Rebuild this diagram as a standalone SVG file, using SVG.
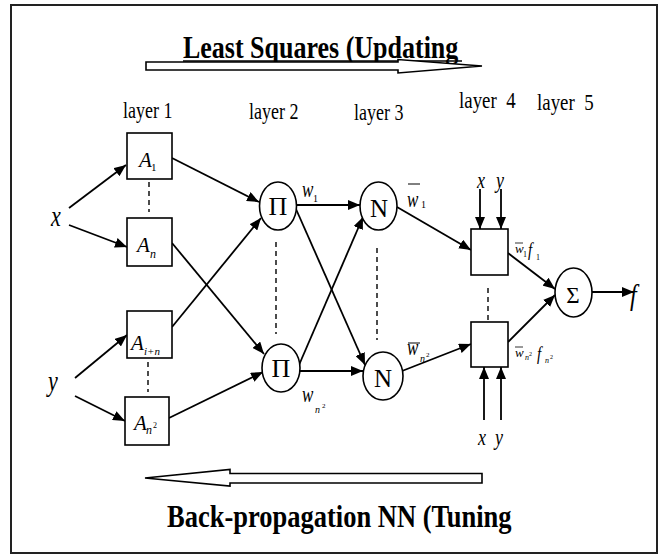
<svg xmlns="http://www.w3.org/2000/svg" width="665" height="556" viewBox="0 0 665 556">
<style>
.t{font-family:'Liberation Serif','DejaVu Serif',serif;fill:#000}
.i{font-style:italic}
.b{font-weight:bold}
.box{fill:#fff;stroke:#000;stroke-width:1.6}
.node{fill:#fff;stroke:#000;stroke-width:1.6}
.arr{stroke:#000;stroke-width:1.8;fill:none;marker-end:url(#ah)}
.dash{stroke:#000;stroke-width:1.4;stroke-dasharray:5,4;fill:none}
.big{fill:#fff;stroke:#000;stroke-width:1.6}
</style>
<defs>
<marker id="ah" viewBox="0 0 12 10" refX="12" refY="5" markerWidth="12" markerHeight="10" orient="auto" markerUnits="userSpaceOnUse">
<path d="M0,0 L12,5 L0,10 z" fill="#000"/>
</marker>
</defs>
<rect x="11" y="5" width="646" height="548" fill="#fff" stroke="#222" stroke-width="2"/>

<g id="top-banner">
<text class="t b" transform="translate(183 58) scale(1 1.2)" font-size="26">Least Squares (Updating</text>
<line x1="183" y1="61" x2="462" y2="61" stroke="#000" stroke-width="1.5"/>
<path class="big" d="M146,62 L398,62 L398,59.5 L482,66 L398,73 L398,70 L146,70 Z"/>
</g>

<g id="bottom-banner">
<path class="big" d="M482,473.5 L230,473.5 L230,469.5 L145,478 L230,486 L230,483 L482,483 Z"/>
<text class="t b" transform="translate(167 527) scale(1 1.2)" font-size="26.5">Back-propagation NN (Tuning</text>
</g>

<g id="layer-labels" class="t" font-size="18">
<text transform="translate(123 118) scale(1 1.3)">layer 1</text>
<text transform="translate(249 119) scale(1 1.3)">layer 2</text>
<text transform="translate(354 120) scale(1 1.3)">layer 3</text>
<text transform="translate(459 108) scale(1.05 1.3)" xml:space="preserve">layer  4</text>
<text transform="translate(537 110) scale(1.05 1.3)" xml:space="preserve">layer  5</text>
</g>

<g id="inputs" class="t i">
<text transform="translate(51 226) scale(1 1.3)" font-size="22">x</text>
<text transform="translate(48 391) scale(1 1.3)" font-size="22">y</text>
</g>

<g id="connectors">
<line class="arr" x1="69" y1="208" x2="126" y2="165"/>
<line class="arr" x1="69" y1="225" x2="127" y2="247"/>
<line class="arr" x1="75" y1="378" x2="127" y2="335"/>
<line class="arr" x1="75" y1="396" x2="125" y2="421"/>
<line class="dash" x1="149" y1="182" x2="149" y2="212"/>
<line class="dash" x1="148" y1="362" x2="148" y2="392"/>
<line class="arr" x1="172" y1="158" x2="259" y2="202"/>
<line class="arr" x1="172" y1="243" x2="264" y2="354"/>
<line class="arr" x1="172" y1="327" x2="261" y2="218"/>
<line class="arr" x1="169" y1="418" x2="263" y2="372"/>
<line class="dash" x1="276" y1="242" x2="276" y2="334"/>
<line class="arr" x1="296" y1="205" x2="360" y2="205"/>
<line class="arr" x1="296" y1="209" x2="365" y2="365"/>
<line class="arr" x1="299" y1="365" x2="363" y2="217"/>
<line class="arr" x1="300" y1="371" x2="363" y2="371"/>
<line class="dash" x1="377" y1="248" x2="377" y2="340"/>
<line class="arr" x1="397" y1="207" x2="471" y2="250"/>
<line class="arr" x1="402" y1="371" x2="471" y2="344"/>
<line class="arr" x1="480" y1="189" x2="480" y2="229"/>
<line class="arr" x1="501" y1="189" x2="501" y2="229"/>
<line class="arr" x1="484" y1="420" x2="484" y2="367"/>
<line class="arr" x1="501" y1="420" x2="501" y2="367"/>
<line class="dash" x1="488" y1="288" x2="488" y2="320"/>
<line class="arr" x1="508" y1="253" x2="555" y2="289"/>
<line class="arr" x1="508" y1="342" x2="555" y2="295"/>
<line class="arr" x1="592" y1="292" x2="634" y2="292"/>
</g>

<g id="A1">
<rect class="box" x="127" y="133" width="45" height="46"/>
<text class="t i" x="139" y="167" font-size="21">A</text>
<text class="t" x="151" y="171" font-size="11">1</text>
</g>
<g id="An">
<rect class="box" x="127" y="218" width="45" height="48"/>
<text class="t i" x="137" y="252" font-size="21">A</text>
<text class="t i" x="150" y="258" font-size="12">n</text>
</g>
<g id="Ain">
<rect class="box" x="127" y="311" width="45" height="47"/>
<text class="t i" x="131" y="350" font-size="21">A</text>
<text class="t i" x="144" y="355" font-size="11">i+n</text>
</g>
<g id="An2">
<rect class="box" x="125" y="397" width="44" height="48"/>
<text class="t i" x="134" y="430" font-size="21">A</text>
<text class="t i" x="146" y="434" font-size="12">n</text>
<text class="t" x="153" y="428" font-size="8">2</text>
</g>

<g id="Pi1">
<ellipse class="node" cx="278" cy="206" rx="18.5" ry="24"/>
<text class="t" x="278" y="215" font-size="26" text-anchor="middle">Π</text>
</g>
<g id="Pi2">
<ellipse class="node" cx="281" cy="368" rx="19" ry="24"/>
<text class="t" x="281" y="377" font-size="26" text-anchor="middle">Π</text>
</g>
<g id="N1">
<ellipse class="node" cx="378.5" cy="206" rx="18.5" ry="24"/>
<text class="t" x="379" y="217" font-size="25" text-anchor="middle">N</text>
</g>
<g id="N2">
<ellipse class="node" cx="383" cy="376" rx="20" ry="24"/>
<text class="t" x="383" y="387" font-size="25" text-anchor="middle">N</text>
</g>

<g id="weights" class="t">
<text class="i" transform="translate(302 197) scale(1 1.3)" font-size="17">w</text>
<text x="313" y="202" font-size="10">1</text>
<text class="i" transform="translate(302 402) scale(1 1.3)" font-size="17">w</text>
<text class="i" x="315" y="413" font-size="10">n</text>
<text x="322" y="408" font-size="7">2</text>
<text class="i" transform="translate(407 207) scale(1 1.3)" font-size="17">w</text>
<line x1="408" y1="184" x2="420" y2="184" stroke="#000" stroke-width="1"/>
<text x="421" y="208" font-size="10">1</text>
<text class="i" transform="translate(407 355) scale(1 1.3)" font-size="17">w</text>
<line x1="408" y1="343" x2="420" y2="343" stroke="#000" stroke-width="1"/>
<text class="i" x="420" y="362" font-size="10">n</text>
<text x="426" y="357" font-size="7">2</text>
</g>

<g id="L4a">
<rect class="box" x="471" y="229" width="37" height="46"/>
</g>
<g id="L4b">
<rect class="box" x="471" y="322" width="37" height="45"/>
</g>
<g id="xy-labels" class="t i">
<text transform="translate(477 188) scale(1 1.3)" font-size="18">x</text>
<text transform="translate(496 188) scale(1 1.3)" font-size="18">y</text>
<text transform="translate(478 445) scale(1 1.3)" font-size="18">x</text>
<text transform="translate(495 445) scale(1 1.3)" font-size="18">y</text>
</g>
<g id="products" class="t">
<text class="i" x="515" y="253" font-size="13">w</text>
<line x1="515" y1="243" x2="523" y2="243" stroke="#000" stroke-width="0.8"/>
<text x="523" y="257" font-size="8">1</text>
<text class="i" transform="translate(528 256) scale(1 1.2)" font-size="15">f</text>
<text x="536" y="260" font-size="8">1</text>
<text class="i" x="515" y="357" font-size="13">w</text>
<line x1="515" y1="347" x2="523" y2="347" stroke="#000" stroke-width="0.8"/>
<text class="i" x="525" y="360" font-size="8">n</text>
<text x="529" y="356" font-size="6">2</text>
<text class="i" transform="translate(537 360) scale(1 1.2)" font-size="15">f</text>
<text class="i" x="545" y="363" font-size="8">n</text>
<text x="550" y="359" font-size="6">2</text>
</g>

<g id="Sigma">
<ellipse class="node" cx="573.5" cy="292.5" rx="18.5" ry="24.5"/>
<text class="t" x="573" y="303" font-size="23" text-anchor="middle">Σ</text>
</g>
<g id="output">
<text class="t i" transform="translate(630 305) scale(1 1.25)" font-size="24">f</text>
</g>
</svg>
